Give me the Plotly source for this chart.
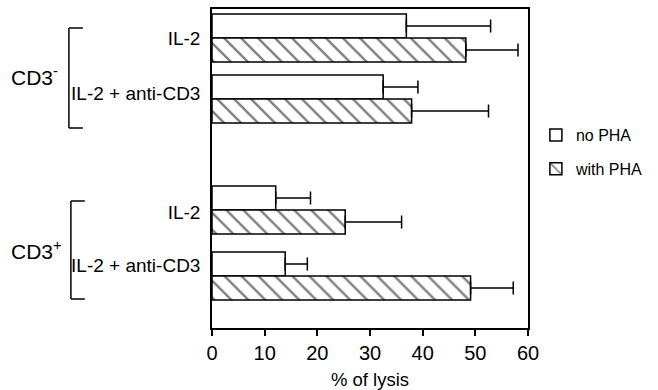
import plotly.graph_objects as go

# ---- data ----
conditions = ["IL-2", "IL-2 + anti-CD3", "IL-2", "IL-2 + anti-CD3"]
groups = ["CD3<sup>-</sup>", "CD3<sup>+</sup>"]
no_pha = [36.9, 32.5, 12.1, 13.9]
no_pha_err = [16.0, 6.6, 6.6, 4.2]
with_pha = [48.2, 37.9, 25.3, 49.1]
with_pha_err = [9.9, 14.6, 10.7, 8.1]
x_ticks = [0, 10, 20, 30, 40, 50, 60]

# ---- layout constants (vertical positions in axis units, top = 0) ----
pair_centers = [29, 90, 201, 267]
label_pos = [29, 84, 203, 256]
bar_w = 24
FONT = "Liberation Sans, Arial, sans-serif"

y_no = [c - bar_w / 2 for c in pair_centers]
y_with = [c + bar_w / 2 for c in pair_centers]

fig = go.Figure()
fig.add_trace(go.Bar(
    name="no PHA", orientation="h", x=no_pha, y=y_no, width=bar_w,
    marker=dict(color="white", line=dict(color="black", width=1.5)),
    error_x=dict(type="data", symmetric=False, array=no_pha_err,
                 arrayminus=[0] * len(no_pha), color="black", thickness=1.5, width=6.5),
    legendgroup="a",
))
fig.add_trace(go.Bar(
    name="with PHA", orientation="h", x=with_pha, y=y_with, width=bar_w,
    marker=dict(color="white", line=dict(color="black", width=1.5),
                pattern=dict(shape="\\", size=12, solidity=0.2,
                             fgcolor="black", bgcolor="white")),
    error_x=dict(type="data", symmetric=False, array=with_pha_err,
                 arrayminus=[0] * len(with_pha), color="black", thickness=1.5, width=6.5),
    legendgroup="b",
))

# brackets for the groups
brackets = [(19, 119, 68), (192, 290, 70)]
shapes = []
for (y0, y1, px) in brackets:
    xp = (px - 212) / 318
    xe = (px + 14 - 212) / 318
    for (a0, a1, b0, b1) in [(xp, xp, y0, y1), (xp, xe, y0, y0), (xp, xe, y1, y1)]:
        shapes.append(dict(type="line", xref="paper", yref="y", x0=a0, x1=a1, y0=b0, y1=b1,
                           line=dict(color="black", width=1.5)))

group_y = [67, 241]
annotations = []
for g, gy in zip(groups, group_y):
    annotations.append(dict(text=g, xref="paper", yref="y", x=(8 - 212) / 318, y=gy,
                            xanchor="left", yanchor="middle", showarrow=False,
                            font=dict(family=FONT, size=21, color="black")))

fig.update_layout(
    width=658, height=390,
    margin=dict(l=212, r=128, t=9, b=62),
    paper_bgcolor="white", plot_bgcolor="white",
    barmode="overlay",
    showlegend=True,
    legend=dict(x=1.025, y=0.658, xanchor="left", yanchor="top",
                font=dict(family=FONT, size=16, color="black"),
                traceorder="grouped", tracegroupgap=10, bgcolor="rgba(0,0,0,0)"),
    shapes=shapes, annotations=annotations,
    font=dict(family=FONT, color="black"),
)
fig.update_xaxes(range=[0, 60], tickvals=x_ticks, ticks="outside", ticklen=6, tickwidth=1.5,
                 tickcolor="black", showline=True, linecolor="black", linewidth=1.5,
                 mirror=True, showgrid=False, zeroline=False, automargin=False,
                 tickfont=dict(family=FONT, size=20, color="black"),
                 title=dict(text="% of lysis", font=dict(family=FONT, size=18.5, color="black"),
                            standoff=13))
fig.update_yaxes(range=[319, 0], tickvals=label_pos, ticktext=conditions, ticks="",
                 showline=True, linecolor="black", linewidth=1.5, mirror=True,
                 showgrid=False, zeroline=False, ticklabelstandoff=6, automargin=False,
                 tickfont=dict(family=FONT, size=19, color="black"))

fig.write_html("out.html", config={"displayModeBar": False},
               post_script="document.body.style.margin='0';")
